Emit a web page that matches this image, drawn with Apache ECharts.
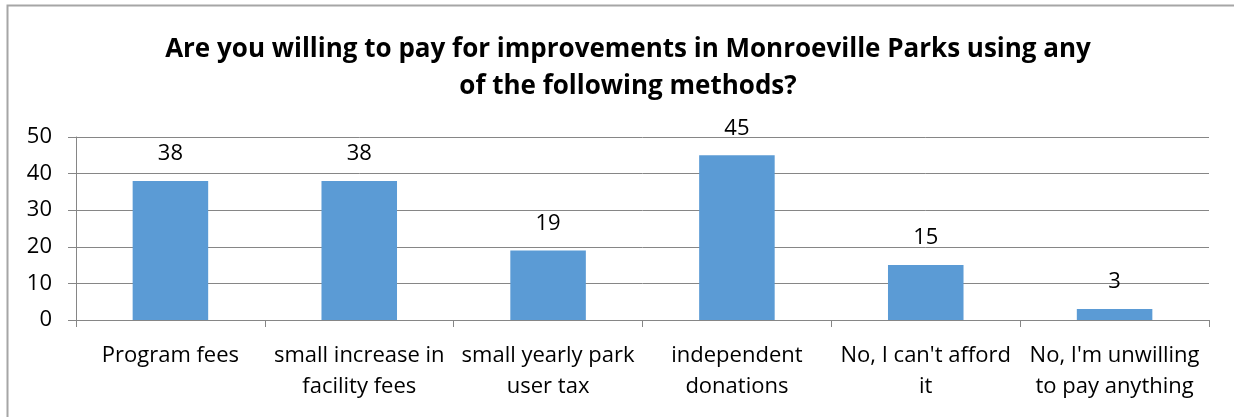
<!DOCTYPE html>
<html>
<head>
<meta charset="utf-8">
<script src="https://cdn.jsdelivr.net/npm/echarts@6/dist/echarts.min.js"></script>
<style>
  html, body { margin: 0; padding: 0; background: #fff; }
  #chart { width: 1234px; height: 417px; }
</style>
</head>
<body>
<div id="chart"></div>
<script>
// Survey answers and response counts
const categories = [
  'Program fees',
  'small increase in\nfacility fees',
  'small yearly park\nuser tax',
  'independent\ndonations',
  "No, I can't afford\nit",
  "No, I'm unwilling\nto pay anything"
];
const responses = [38, 38, 19, 45, 15, 3];
const yTicks = { min: 0, max: 50, interval: 10 };

const chart = echarts.init(document.getElementById('chart'));
const FONT = '"Open Sans", sans-serif';

chart.setOption({
  animation: false,
  backgroundColor: '#fff',
  graphic: [{
    type: 'rect',
    shape: { x: 7.5, y: 5.5, width: 1240, height: 430 },
    style: { fill: 'none', stroke: '#a6a6a6', lineWidth: 2 },
    silent: true
  }],
  title: {
    text: 'Are you willing to pay for improvements in Monroeville Parks using any\nof the following methods?',
    left: 623,
    top: 26,
    textAlign: 'center',
    textStyle: {
      fontFamily: FONT,
      fontWeight: 'bold',
      fontSize: 26,
      lineHeight: 37,
      color: '#000'
    }
  },
  grid: { left: 76, right: 25, top: 137, bottom: 97 },
  xAxis: {
    type: 'category',
    data: categories,
    boundaryGap: true,
    axisLine: { lineStyle: { color: '#868686', width: 1 } },
    axisTick: { show: true, length: 7, lineStyle: { color: '#868686' } },
    axisLabel: {
      interval: 0,
      margin: 20,
      fontFamily: FONT,
      fontSize: 22,
      lineHeight: 31,
      color: '#000'
    }
  },
  yAxis: {
    type: 'value',
    min: yTicks.min,
    max: yTicks.max,
    interval: yTicks.interval,
    axisLine: { show: true, lineStyle: { color: '#868686', width: 1 } },
    axisTick: { show: true, length: 8, lineStyle: { color: '#868686' } },
    splitLine: { show: true, lineStyle: { color: '#868686', width: 1 } },
    axisLabel: {
      margin: 24,
      fontFamily: FONT,
      fontSize: 22,
      color: '#000'
    }
  },
  series: [{
    type: 'bar',
    data: responses,
    barWidth: '40%',
    itemStyle: { color: '#5b9bd5' },
    label: {
      show: true,
      position: 'top',
      distance: 16,
      fontFamily: FONT,
      fontSize: 22,
      color: '#000'
    }
  }]
});
</script>
</body>
</html>
